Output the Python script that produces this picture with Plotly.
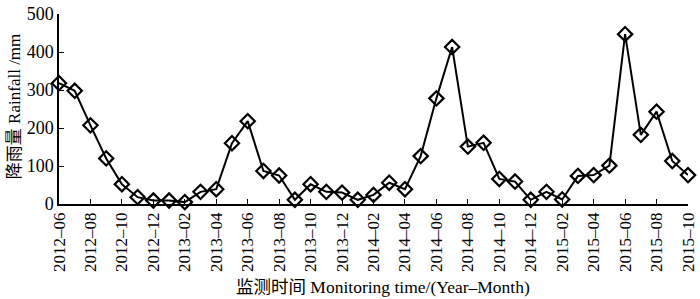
import plotly.graph_objects as go

months = ["2012-06","2012-07","2012-08","2012-09","2012-10","2012-11","2012-12",
          "2013-01","2013-02","2013-03","2013-04","2013-05","2013-06","2013-07","2013-08","2013-09","2013-10","2013-11","2013-12",
          "2014-01","2014-02","2014-03","2014-04","2014-05","2014-06","2014-07","2014-08","2014-09","2014-10","2014-11","2014-12",
          "2015-01","2015-02","2015-03","2015-04","2015-05","2015-06","2015-07","2015-08","2015-09","2015-10"]
rainfall = [318, 298, 207, 120, 52, 18, 9,
            9, 5, 32, 39, 160, 218, 87, 75, 11, 52, 32, 30,
            11, 24, 56, 39, 126, 278, 413, 151, 161, 66, 59, 11,
            32, 12, 74, 76, 101, 447, 182, 243, 113, 76]
tick_labels = [m.replace("-", "–") for m in months[::2]]
x_title = "监测时间 Monitoring time/(Year–Month)"
y_title = "降雨量 Rainfall /mm"

idx = list(range(len(months)))
font_serif = "Liberation Serif, Times New Roman, Noto Sans CJK SC, serif"

fig = go.Figure(go.Scatter(
    x=idx, y=rainfall, mode="lines+markers",
    line=dict(color="black", width=2),
    marker=dict(symbol="diamond-open", size=11, color="black", line=dict(width=2.2, color="black")),
    cliponaxis=False, showlegend=False,
))
fig.update_layout(
    width=700, height=299,
    margin=dict(l=59, r=12, t=14, b=95),
    plot_bgcolor="white", paper_bgcolor="white",
    font=dict(family=font_serif, color="black"),
    annotations=[
        dict(text=x_title, xref="paper", yref="paper", x=0.515, y=-0.437, xanchor="center", yanchor="middle",
             showarrow=False, font=dict(size=17.5, family=font_serif)),
        dict(text=y_title, xref="paper", yref="paper", x=-0.0715, y=0.51, xanchor="center", yanchor="middle",
             textangle=-90, showarrow=False, font=dict(size=17, family=font_serif)),
    ],
)
fig.update_xaxes(
    range=[0, len(months) - 1], tickmode="array", tickvals=idx[::2], ticktext=tick_labels,
    tickangle=-90, tickfont=dict(size=17, family=font_serif), automargin=False,
    showline=True, linecolor="black", linewidth=1.5, ticks="inside", ticklen=5, tickcolor="black",
    showgrid=False, zeroline=False,
)
fig.update_yaxes(
    range=[0, 500], tickvals=[0, 100, 200, 300, 400, 500],
    tickfont=dict(size=18, family=font_serif), automargin=False,
    showline=True, linecolor="black", linewidth=1.5, ticks="inside", ticklen=5, tickcolor="black",
    showgrid=False, zeroline=False,
)
fig.write_html("out.html", config={"displayModeBar": False},
               post_script="document.body.style.margin='0px';")
